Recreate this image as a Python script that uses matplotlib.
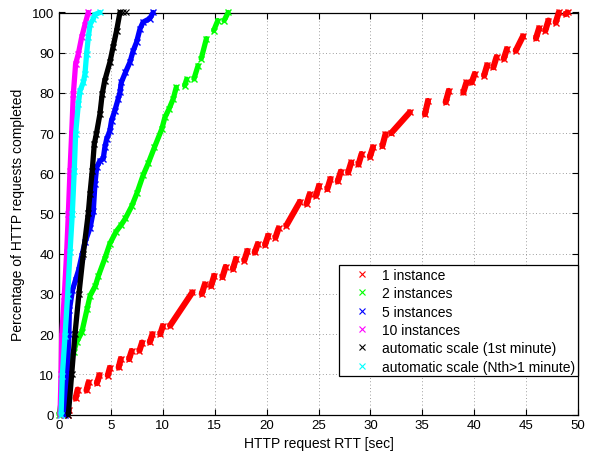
import numpy as np
import matplotlib
matplotlib.use("Agg")
import matplotlib.pyplot as plt
from matplotlib.lines import Line2D

plt.rcParams["font.family"] = ["Liberation Sans", "DejaVu Sans"]

# 1 instance: red marks come in short clusters -> (start, end) of each cluster
red_x0 = [0.85, 1.6, 2.65, 3.65, 4.7, 5.75, 6.75, 7.75, 8.75, 9.75, 10.7, 13.75, 14.65,
          15.75, 16.75, 17.85, 18.85, 19.85, 20.85, 21.9, 23.85, 24.75, 25.85, 26.85,
          27.85, 28.85, 29.95, 31.15, 32.0, 35.25, 37.25, 38.95, 39.75, 40.95, 41.85,
          42.85, 44.0, 45.95, 46.85, 47.85, 48.8]
red_y0 = [0.0, 4.0, 6.0, 7.8, 9.7, 11.7, 13.8, 15.9, 18.0, 20.0, 22.1, 30.0, 32.0,
          34.2, 36.2, 38.3, 40.3, 42.2, 44.0, 47.0, 52.4, 54.4, 56.1, 58.0,
          60.2, 62.2, 64.1, 66.8, 70.0, 74.7, 77.7, 80.1, 82.6, 84.3, 86.4,
          88.5, 90.5, 93.6, 95.5, 97.5, 99.6]
red_x1 = [0.95, 1.8, 2.85, 3.9, 4.9, 5.95, 7.0, 8.0, 9.0, 10.0, 12.85, 14.05, 14.95,
          16.05, 17.05, 18.15, 19.15, 20.15, 21.15, 23.2, 24.15, 25.05, 26.15, 27.15,
          28.15, 29.15, 30.25, 31.45, 33.8, 35.55, 37.55, 39.25, 40.05, 41.25, 42.15,
          43.15, 44.7, 46.25, 47.15, 48.15, 49.0]
red_y1 = [1.2, 6.2, 8.0, 9.8, 11.6, 13.8, 15.8, 17.9, 20.0, 22.0, 30.4, 32.4, 34.5,
          36.7, 38.7, 40.7, 42.4, 44.5, 46.3, 52.9, 54.8, 56.9, 58.6, 60.4,
          62.7, 64.8, 66.5, 69.7, 75.2, 78.0, 80.5, 82.6, 84.7, 86.9, 88.9,
          90.9, 94.1, 96.1, 98.0, 100.0, 100.0]

# 2 instances (NaN = gap between clusters)
green_x = [0.0, 0.4, 0.9, 1.4, 1.7, 2.2, 2.7, 3.0, 3.5, 3.8, 4.4, 4.9, 5.5, 6.0, 6.4,
           7.0, 7.5, 8.1, 8.6, 9.2, 9.9, 10.2, 10.6, 11.0, 11.3, np.nan,
           12.1, 12.3, np.nan, 13.0, 13.4, np.nan, 13.7, 14.2, np.nan,
           14.9, 15.3, np.nan, 15.9, 16.3]
green_y = [0.0, 6.0, 12.0, 15.5, 18.0, 20.5, 26.2, 29.6, 32.0, 34.5, 38.7, 42.5, 45.5,
           47.2, 48.8, 51.8, 55.0, 59.5, 62.5, 66.5, 71.0, 73.9, 76.0, 78.5, 81.4, np.nan,
           81.8, 83.4, np.nan, 83.5, 86.8, np.nan, 88.5, 93.5, np.nan,
           95.5, 98.0, np.nan, 98.0, 100.0]

# 5 instances
blue_x = [0.6, 0.8, 0.95, 1.0, 1.3, 1.6, 1.9, 2.2, 2.5, 3.0, 3.3, 3.46, 3.63, 3.94,
          4.26, 4.42, 4.59, 4.9, 5.06, 5.38, 5.7, 5.87, 6.0, 6.4, 6.83, 7.15, 7.47,
          7.8, 8.1, 8.75, 9.07]
blue_y = [0.0, 10.0, 20.0, 26.0, 31.0, 33.5, 36.0, 39.5, 42.8, 46.5, 50.5, 57.3, 61.5,
          63.1, 63.6, 66.5, 68.5, 70.6, 73.1, 75.6, 78.5, 80.1, 82.6, 85.1, 87.6, 90.5,
          92.6, 95.9, 97.6, 98.5, 100.0]

# 10 instances
magenta_x = [0.1, 0.2, 0.26, 0.51, 0.74, 0.9, 1.06, 1.22, 1.38, 1.6, 1.86, 2.18, 2.5, 2.82]
magenta_y = [0.0, 10.0, 19.6, 29.5, 40.4, 49.9, 60.6, 69.8, 79.7, 87.2, 89.7, 93.8, 97.0, 100.0]

# automatic scale (1st minute)
black_x = [0.9, 1.22, 1.54, 1.92, 2.34, 2.82, 2.98, 3.2, 3.4, 3.6, 3.94, 4.16, 4.4,
           4.9, 5.2, 5.55, 5.87]
black_y = [0.0, 10.0, 20.0, 30.0, 40.0, 50.0, 54.8, 60.6, 67.3, 69.8, 74.7, 79.7, 83.0,
           87.6, 91.3, 95.5, 100.0]
black_tail_x = [6.15, 6.5]
black_tail_y = [100.0, 100.0]

# automatic scale (Nth>1 minute)
cyan_x = [0.2, 0.32, 0.58, 0.83, 1.06, 1.28, 1.47, 1.6, 1.86, 2.02, 2.34, 2.5, 2.66,
          2.82, 3.0, 3.3, 3.46, 3.94]
cyan_y = [0.0, 9.7, 19.6, 29.6, 40.3, 49.9, 60.6, 69.8, 77.2, 80.5, 82.6, 84.7, 89.7,
          93.8, 97.1, 98.4, 99.5, 100.0]

labels = ["1 instance", "2 instances", "5 instances", "10 instances",
          "automatic scale (1st minute)", "automatic scale (Nth>1 minute)"]
colors = ["#ff0000", "#00ff00", "#0000ff", "#ff00ff", "#000000", "#00ffff"]

LW, MS = 3.8, 4.5

fig = plt.figure(figsize=(5.92, 4.52), dpi=100, facecolor="white")
ax = fig.add_axes([59 / 592, 36.5 / 452, 519 / 592, 402 / 452])

for x0, y0, x1, y1 in zip(red_x0, red_y0, red_x1, red_y1):
    ax.plot([x0, x1], [y0, y1], color=colors[0], lw=LW + 0.6, marker="x", ms=MS,
            mew=1, solid_capstyle="round", zorder=3, clip_on=False)

series = [(green_x, green_y), (blue_x, blue_y), (magenta_x, magenta_y),
          (black_x, black_y), (cyan_x, cyan_y)]
for (xs, ys), c in zip(series, colors[1:]):
    ax.plot(xs, ys, color=c, lw=LW, marker="x", ms=MS, mew=1,
            solid_capstyle="round", zorder=3, clip_on=False)
ax.plot(black_tail_x, black_tail_y, ls="none", color="black", marker="x", ms=4,
        mew=0.8, zorder=3, clip_on=False)

ax.set_xlim(0, 50)
ax.set_ylim(0, 100)
ax.set_xticks(np.arange(0, 51, 5))
ax.set_yticks(np.arange(0, 101, 10))
ax.grid(True, color="#7f7f7f", lw=0.6, ls=(0, (1, 3)))
ax.set_axisbelow(True)
ax.tick_params(direction="in", top=True, right=True, length=4, width=0.8,
               labelsize=9.5, pad=3.5)
for s in ax.spines.values():
    s.set_linewidth(0.9)

ax.set_xlabel("HTTP request RTT [sec]", fontsize=10, labelpad=3)
ax.set_ylabel("Percentage of HTTP requests completed", fontsize=10, labelpad=5)

handles = [Line2D([], [], ls="none", marker="x", color=c, ms=4, mew=0.8) for c in colors]
leg = ax.legend(handles, labels, loc="lower right", bbox_to_anchor=(1.0, 0.095),
                borderaxespad=0, fontsize=10, frameon=True, fancybox=False,
                framealpha=1, edgecolor="black", borderpad=0.2,
                handlelength=2.9, handletextpad=0.0, labelspacing=0.31)
leg.get_frame().set_linewidth(0.9)
leg.set_zorder(5)

fig.savefig("out.png", dpi=100, facecolor="white")
